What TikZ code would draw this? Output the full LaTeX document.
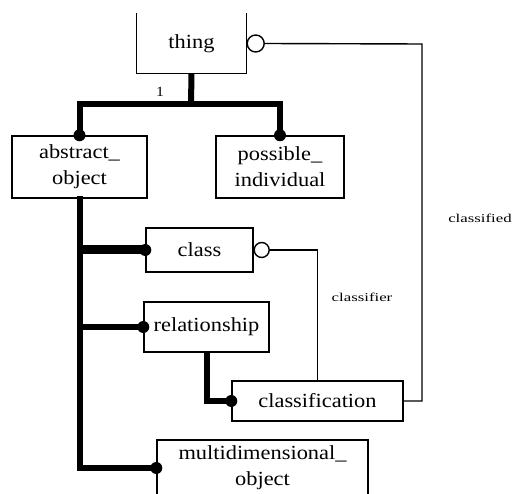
\documentclass[tikz,border=0pt]{standalone}
\usepackage{fontspec}
\setmainfont{Liberation Serif}[FakeStretch=1.12]
\newfontfamily\lblfont{Liberation Serif}[FakeStretch=1.4]
\begin{document}
\begin{tikzpicture}[x=1pt,y=-1pt,
  box/.style={draw, line width=1.4pt, inner sep=0pt, align=center, font=\fontsize{20}{26}\selectfont},
  nobox/.style={inner sep=0pt, align=center, font=\fontsize{20}{26}\selectfont},
  thickline/.style={line width=6pt},
  thinline/.style={line width=1.4pt},
  dot/.style={circle, fill, inner sep=0pt, minimum size=12pt},
  opencirc/.style={circle, draw, fill=white, line width=1.4pt, inner sep=0pt, minimum size=15pt},
  lbl/.style={font=\lblfont\fontsize{12}{14}\selectfont, inner sep=0pt}]
\clip (0,0) rectangle (514,494);
\fill[white] (0,0) rectangle (514,494);
% boxes
\node[nobox, minimum width=110pt, minimum height=60pt] (thing) at (191.5,43.5) {thing};
\draw[thinline] (thing.north west) -- (thing.south west) -- (thing.south east) -- (thing.north east);
\node[box, minimum width=135pt, minimum height=62pt] (abstract) at (79.5,167) {abstract\_\\object};
\node[box, minimum width=128pt, minimum height=62pt] (possible) at (280,167) {possible\_\\individual};
\node[box, minimum width=107pt, minimum height=44pt] (class) at (199.5,250) {class};
\node[box, minimum width=125pt, minimum height=50pt] (relationship) at (206.5,327) {relationship};
\node[box, minimum width=171pt, minimum height=40pt] (classification) at (317.5,401) {classification};
\node[box, minimum width=211pt, minimum height=56pt] (multi) at (262.5,468) {};
\node[nobox, anchor=north] (multitext) at (262.5,445) {multidimensional\_\\object};
% hierarchy
\coordinate (bar) at (191,104);
\draw[thickline] (thing.south) -- (bar);
\draw[thickline] (abstract.north) -- (abstract.north |- bar) -- (possible.north |- bar) -- (possible.north);
\node[inner sep=0pt, font=\fontsize{14}{16}\selectfont] (one) at (160,92) {1};
\draw[thickline, line cap=rect] (abstract.south) |- (multi.west);
\draw[line width=9pt] (abstract.south |- class.west) -- (class.west);
\draw[thickline] (abstract.south |- relationship.west) -- (relationship.west);
\draw[thickline] (relationship.south) |- (classification.west);
\node[dot] at (abstract.north) {};
\node[dot] at (possible.north) {};
\node[dot] at (class.west) {};
\node[dot] at (relationship.west) {};
\node[dot] at (classification.west) {};
\node[dot] at (multi.west) {};
% classifier
\node[opencirc] (cc) at ([xshift=8pt]class.east) {};
\draw[thinline] (cc.east) -| (classification.north);
\node[lbl] (classifier) at (362,297) {classifier};
% classified
\node[opencirc, minimum size=17pt] (tc) at ([xshift=9pt]thing.east) {};
\coordinate (corner) at (422,44);
\draw[thinline] (tc.east) -- (corner) -- (corner |- classification.east) -- (classification.east);
\node[lbl] (classified) at (480,218) {classified};
\end{tikzpicture}
\end{document}
